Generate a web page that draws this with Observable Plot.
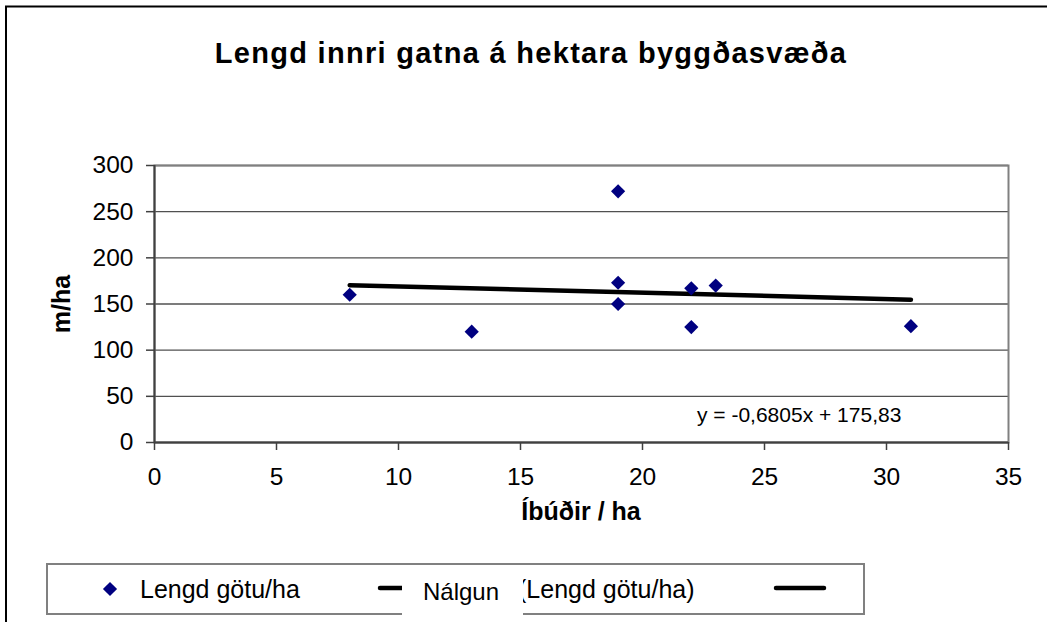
<!DOCTYPE html>
<html>
<head>
<meta charset="utf-8">
<script src="https://cdn.jsdelivr.net/npm/d3@7"></script>
<script src="https://cdn.jsdelivr.net/npm/@observablehq/plot@0.6"></script>
<style>
  html, body { margin: 0; padding: 0; background: #fff; overflow: hidden; }
  svg { display: block; }
</style>
</head>
<body>
<div id="chart"></div>
<script>
// ---- data ----
const residentsPerHa = [8, 13, 19, 19, 19, 22, 22, 23, 31];
const streetLengthPerHa = [160, 120, 272, 173, 150, 167, 125, 170, 126];
const xTicks = [0, 5, 10, 15, 20, 25, 30, 35];
const yTicks = [0, 50, 100, 150, 200, 250, 300];
const trendSlope = -0.6805;
const trendIntercept = 175.83;
const titleText = "Lengd innri gatna á hektara byggðasvæða";
const xLabel = "Íbúðir / ha";
const yLabel = "m/ha";
const equationText = "y = -0,6805x + 175,83";
const seriesName = "Lengd götu/ha";
const trendLegendName = "(Lengd götu/ha)";
const trendLegendOverlay = "Nálgun";

const points = residentsPerHa.map((x, i) => ({x, y: streetLengthPerHa[i]}));
const xExt = d3.extent(residentsPerHa);
const trend = xExt.map(x => ({x, y: trendSlope * x + trendIntercept}));

const W = 1047, H = 622;
const chart = Plot.plot({
  width: W,
  height: H,
  marginLeft: 154,
  marginRight: 39,
  marginTop: 165,
  marginBottom: 180,
  style: {fontFamily: "'Liberation Sans', Arial, sans-serif", fontSize: "24.5px", background: "white", color: "black"},
  x: {domain: [0, 35]},
  y: {domain: [0, 300]},
  marks: [
    Plot.gridY(yTicks, {stroke: "#505050", strokeOpacity: 1, strokeWidth: 1.3}),
    Plot.frame({stroke: "#808080", strokeWidth: 2}),
    Plot.ruleX([0], {stroke: "#404040", strokeWidth: 2}),
    Plot.ruleY([0], {stroke: "#404040", strokeWidth: 2}),
    Plot.axisY(yTicks, {tickSize: 8, tickPadding: 13, label: null, strokeWidth: 1.5, stroke: "#404040"}),
    Plot.axisX(xTicks, {tickSize: 8, tickPadding: 17, label: null, strokeWidth: 1.5, stroke: "#404040"}),
    Plot.line(trend, {x: "x", y: "y", stroke: "black", strokeWidth: 4.5}),
    Plot.dot(points, {x: "x", y: "y", symbol: "diamond2", r: 6.4, fill: "#000080", stroke: "none"})
  ]
});
document.getElementById("chart").appendChild(chart);

// ---- annotations (title, labels, legend, outer frame) ----
const svg = d3.select(chart);
svg.selectAll("g[aria-label='y-axis tick label'], g[aria-label='x-axis tick label']")
  .attr("stroke", null).attr("fill", "black");
svg.selectAll("g[aria-label='y-axis tick label'] text, g[aria-label='x-axis tick label'] text")
  .attr("stroke", "none");

const ann = svg.append("g")
  .attr("font-family", "'Liberation Sans', Arial, sans-serif")
  .attr("text-anchor", "start");

// outer chart border
ann.append("rect").attr("x", 6).attr("y", 6.5).attr("width", W + 20).attr("height", H + 20)
  .attr("fill", "none").attr("stroke", "black").attr("stroke-width", 2);

ann.append("text").attr("x", 531).attr("y", 63).attr("text-anchor", "middle")
  .attr("font-weight", "bold").attr("font-size", 29).attr("letter-spacing", 1.3)
  .text(titleText);

ann.append("text").attr("transform", "translate(70,304) rotate(-90)").attr("text-anchor", "middle")
  .attr("font-weight", "bold").attr("font-size", 25).text(yLabel);

ann.append("text").attr("x", 581).attr("y", 520).attr("text-anchor", "middle")
  .attr("font-weight", "bold").attr("font-size", 25).text(xLabel);

ann.append("text").attr("x", 697).attr("y", 422).attr("font-size", 21).text(equationText);

// legend
const lg = ann.append("g");
lg.append("rect").attr("x", 47).attr("y", 564).attr("width", 817).attr("height", 50)
  .attr("fill", "white").attr("stroke", "#808080").attr("stroke-width", 2);
lg.append("path").attr("d", d3.symbol(d3.symbolDiamond2, 128)())
  .attr("transform", "translate(110,589)").attr("fill", "#000080");
lg.append("text").attr("x", 140).attr("y", 598).attr("font-size", 25).text(seriesName);
lg.append("line").attr("x1", 380).attr("x2", 404).attr("y1", 588).attr("y2", 588)
  .attr("stroke", "black").attr("stroke-width", 4.5).attr("stroke-linecap", "round");
lg.append("text").attr("x", 518).attr("y", 598).attr("font-size", 25).text(trendLegendName);
lg.append("line").attr("x1", 776).attr("x2", 824).attr("y1", 588).attr("y2", 588)
  .attr("stroke", "black").attr("stroke-width", 4.5).attr("stroke-linecap", "round");
lg.append("rect").attr("x", 402).attr("y", 566).attr("width", 121).attr("height", 70).attr("fill", "white");
lg.append("text").attr("x", 423).attr("y", 600).attr("font-size", 24).text(trendLegendOverlay);
</script>
</body>
</html>
